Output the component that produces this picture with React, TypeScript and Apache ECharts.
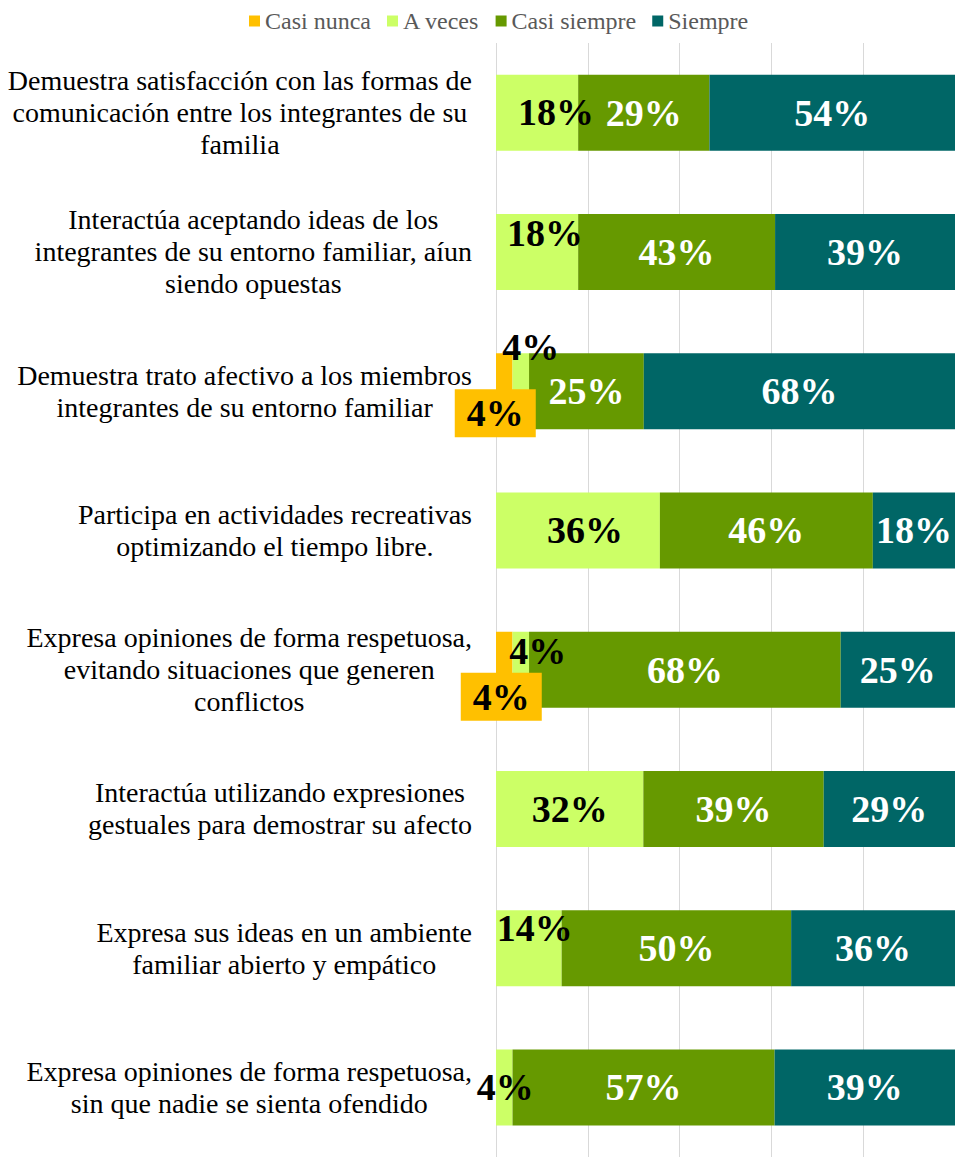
import React, { useEffect, useRef } from "react";
import * as echarts from "echarts";

const categories = [
  "Demuestra satisfacción con las formas de\ncomunicación entre los integrantes de su\nfamilia",
  "Interactúa aceptando ideas de los\nintegrantes de su entorno familiar, aíun\nsiendo opuestas",
  "Demuestra trato afectivo a los miembros\nintegrantes de su entorno familiar",
  "Participa en actividades recreativas\noptimizando el tiempo libre.",
  "Expresa opiniones de forma respetuosa,\nevitando situaciones que generen\nconflictos",
  "Interactúa utilizando expresiones\ngestuales para demostrar su afecto",
  "Expresa sus ideas en un ambiente\nfamiliar abierto y empático",
  "Expresa opiniones de forma respetuosa,\nsin que nadie se sienta ofendido",
];

const seriesNames = ["Casi nunca", "A veces", "Casi siempre", "Siempre"];
const casiNunca = [0, 0, 3.6, 0, 3.6, 0, 0, 0];
const aVeces = [17.9, 17.9, 3.6, 35.7, 3.6, 32.1, 14.3, 3.6];
const casiSiempre = [28.6, 42.9, 25.0, 46.4, 67.9, 39.3, 50.0, 57.1];
const siempre = [53.6, 39.3, 67.9, 17.9, 25.0, 28.6, 35.7, 39.3];

const colors = ["#FFC000", "#CCFF66", "#669900", "#006666"];
const labelColors = ["#000000", "#000000", "#ffffff", "#ffffff"];

// label offsets per series per row (manually dragged labels in the original)
const labelOffsets: number[][][] = [
  [[-9, 22], [-9, 22], [-9, 22], [0, 0], [-3, 27], [0, 0], [0, 0], [0, 0]],
  [[19, -1], [8, -19], [10, -44], [7, 0], [17, -19], [0, 0], [6, -20], [1, 0]],
  [[0, 0], [0, 0], [0, 0], [0, 0], [0, 0], [0, 0], [0, 0], [0, 0]],
  [[0, 0], [0, 0], [0, 0], [0, 0], [0, 0], [0, 0], [0, 0], [0, 0]],
];

const FONT = '"Liberation Serif", "Times New Roman", serif';

export default function App() {
  const ref = useRef<HTMLDivElement>(null);
  useEffect(() => {
    if (!ref.current) return;
    const chart = echarts.init(ref.current, null, { renderer: "svg" });
    const values = [casiNunca, aVeces, casiSiempre, siempre];
    const series = values.map((vals, si) => ({
      name: seriesNames[si],
      type: "bar",
      stack: "total",
      barWidth: 76,
      itemStyle: { color: colors[si] },
      label: {
        show: true,
        position: "inside",
        color: labelColors[si],
        fontFamily: FONT,
        fontWeight: "bold",
        fontSize: 38,
        formatter: (p: any) => Math.round(p.value) + "%",
        ...(si === 0
          ? { backgroundColor: colors[0], padding: [6, 12, 4, 12], lineHeight: 38 }
          : {}),
      },
      data: vals.map((v, i) => ({
        value: v,
        label: {
          show: v > 0,
          offset: labelOffsets[si][i],
        },
      })),
    }));
    chart.setOption({
      animation: false,
      legend: {
        top: 9,
        left: 249,
        padding: 0,
        itemWidth: 11,
        itemHeight: 11,
        itemGap: 16,
        icon: "rect",
        textStyle: { fontFamily: FONT, fontSize: 24, color: "#595959" },
        data: seriesNames,
      },
      grid: { left: 496, top: 43, width: 460, height: 1117 },
      xAxis: {
        type: "value",
        min: 0,
        max: 100,
        interval: 20,
        axisLabel: { show: false },
        axisLine: { show: false },
        axisTick: { show: false },
        splitLine: { show: true, lineStyle: { color: "#d9d9d9", width: 1 } },
      },
      yAxis: {
        type: "category",
        inverse: true,
        data: categories,
        axisLine: { show: false },
        axisTick: { show: false },
        axisLabel: {
          margin: 24,
          fontFamily: FONT,
          fontSize: 28,
          lineHeight: 32,
          color: "#000000",
          formatter: (v: string) => v.split("\n").map((l) => `{c|${l}}`).join("\n"),
          rich: {
            c: { align: "center", fontFamily: FONT, fontSize: 28, lineHeight: 32, color: "#000000" },
          },
        },
      },
      series,
    });
    return () => chart.dispose();
  }, []);
  return (
    <div
      ref={ref}
      style={{ position: "absolute", left: 0, top: 0, width: 955, height: 1157, background: "#fff" }}
    />
  );
}
